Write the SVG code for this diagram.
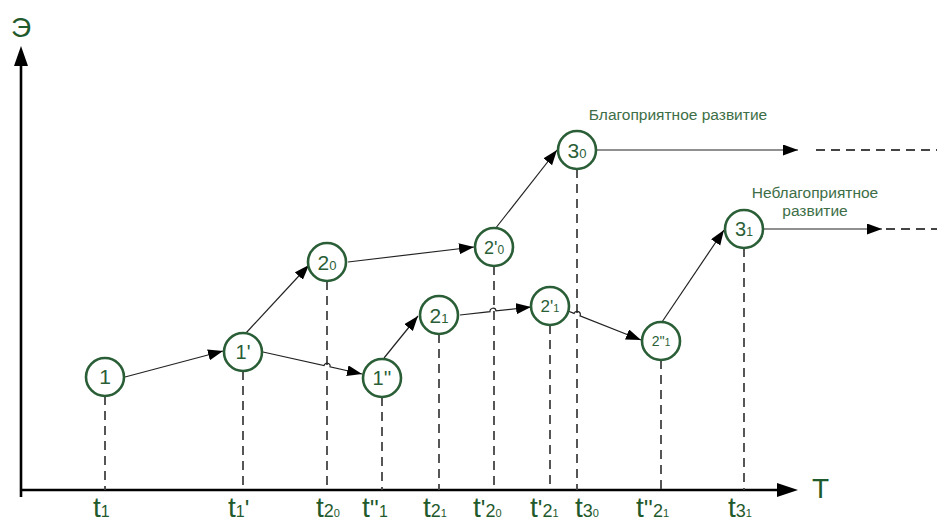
<svg xmlns="http://www.w3.org/2000/svg" width="937" height="523" viewBox="0 0 937 523">
<defs>
<style>
.nd circle{fill:#fff;stroke:#2a5e36;stroke-width:2.6}
.nt{font-family:"Liberation Sans",Arial,sans-serif;fill:#2a5e36;text-anchor:middle}
.lb{font-family:"Liberation Sans",Arial,sans-serif;fill:#1f5a2c;font-size:28px}
.cap{font-family:"Liberation Sans",Arial,sans-serif;fill:#3d6e47;font-size:15.5px;text-anchor:middle}
.dash{stroke:#444;stroke-width:1.8;stroke-dasharray:9 6;fill:none}
.con{stroke:#222;stroke-width:1.2;fill:none;marker-end:url(#ah)}
.ax{stroke:#000;stroke-width:2.6;fill:none}
</style>
<marker id="ah" markerUnits="userSpaceOnUse" markerWidth="16" markerHeight="12" refX="15" refY="5.5" orient="auto">
<path d="M0,0 L15,5.5 L0,11 z" fill="#000"/>
</marker>
<marker id="axh" markerUnits="userSpaceOnUse" markerWidth="22" markerHeight="16" refX="21" refY="7" orient="auto">
<path d="M0,0 L21,7 L0,14 z" fill="#000"/>
</marker>
</defs>

<g id="axes">
<path class="ax" d="M21,497 V66"/>
<path class="ax" d="M20,490 H778"/>
<path d="M777,483 L798,490 L777,497 z" fill="#000"/>
<path d="M14,66 L21,46 L28,66 z" fill="#000"/>
<text x="21" y="37" class="lb" text-anchor="middle">Э</text>
<text x="812" y="498" class="lb">T</text>
</g>

<g id="drops">
<path class="dash" d="M105,396 V490 M243,371 V490 M327,281 V490 M382,397 V490 M439,334 V490 M494,266 V490 M550,325 V490 M577,169 V490 M661,360 V490 M744,248 V490"/>
<path class="dash" d="M816,150 H937 M886,229 H937"/>
</g>

<g id="connectors">
<path class="con" d="M125,377 L223,351"/>
<path class="con" d="M246,333 L309,265"/>
<path class="con" d="M263,352 L324,365.6 A3,3 0 0 1 330,366.9 L362,374"/>
<path class="con" d="M384,358 L418,316"/>
<path class="con" d="M348,262 L474,247"/>
<path class="con" d="M460,315 L490,311.6 A3,3 0 0 1 496,310.9 L531,307"/>
<path class="con" d="M495,229 L557,150"/>
<path class="con" d="M568,311 L574,313.4 A3,3 0 0 1 580,315.9 L641,340"/>
<path class="con" d="M662,322 L724,230"/>
<path class="con" d="M597,150 L798,150"/>
<path class="con" d="M764,229 L882,229"/>
</g>

<g id="n1" class="nd"><circle cx="105" cy="377" r="19"/><text class="nt" x="105" y="384" font-size="21">1</text></g>
<g id="n1p" class="nd"><circle cx="243" cy="352" r="19"/><text class="nt" x="243" y="359" font-size="20">1'</text></g>
<g id="n20" class="nd"><circle cx="327" cy="262" r="19"/><text class="nt" x="327" y="270" font-size="21">2<tspan font-size="13">0</tspan></text></g>
<g id="n1pp" class="nd"><circle cx="382" cy="378" r="19"/><text class="nt" x="382" y="385" font-size="20">1''</text></g>
<g id="n21" class="nd"><circle cx="439" cy="315" r="19"/><text class="nt" x="439" y="323" font-size="21">2<tspan font-size="13">1</tspan></text></g>
<g id="n20p" class="nd"><circle cx="494" cy="247" r="19"/><text class="nt" x="494" y="254" font-size="18">2'<tspan font-size="12">0</tspan></text></g>
<g id="n21p" class="nd"><circle cx="550" cy="306" r="19"/><text class="nt" x="550" y="312" font-size="17">2'<tspan font-size="11">1</tspan></text></g>
<g id="n30" class="nd"><circle cx="577" cy="150" r="19"/><text class="nt" x="577" y="158" font-size="21">3<tspan font-size="13">0</tspan></text></g>
<g id="n21pp" class="nd"><circle cx="661" cy="341" r="19"/><text class="nt" x="661" y="346" font-size="14">2''<tspan font-size="10">1</tspan></text></g>
<g id="n31" class="nd"><circle cx="744" cy="229" r="19"/><text class="nt" x="744" y="236" font-size="20">3<tspan font-size="12">1</tspan></text></g>

<g id="captions">
<text class="cap" x="678" y="120">Благоприятное развитие</text>
<text class="cap" x="815" y="198">Неблагоприятное</text>
<text class="cap" x="815" y="216">развитие</text>
</g>

<g id="ticks">
<text class="lb" x="93" y="517">t<tspan font-size="16">1</tspan></text>
<text class="lb" x="228" y="517">t<tspan font-size="16">1</tspan><tspan font-size="24">'</tspan></text>
<text class="lb" x="316" y="517">t<tspan font-size="18">2</tspan><tspan font-size="11">0</tspan></text>
<text class="lb" x="362" y="517">t<tspan font-size="24">''</tspan><tspan font-size="16">1</tspan></text>
<text class="lb" x="423" y="517">t<tspan font-size="18">2</tspan><tspan font-size="11">1</tspan></text>
<text class="lb" x="473" y="517">t<tspan font-size="24">'</tspan><tspan font-size="18">2</tspan><tspan font-size="11">0</tspan></text>
<text class="lb" x="530" y="517">t<tspan font-size="24">'</tspan><tspan font-size="18">2</tspan><tspan font-size="11">1</tspan></text>
<text class="lb" x="575" y="517">t<tspan font-size="18">3</tspan><tspan font-size="11">0</tspan></text>
<text class="lb" x="636" y="517">t<tspan font-size="24">''</tspan><tspan font-size="18">2</tspan><tspan font-size="11">1</tspan></text>
<text class="lb" x="728" y="517">t<tspan font-size="18">3</tspan><tspan font-size="11">1</tspan></text>
</g>
</svg>
